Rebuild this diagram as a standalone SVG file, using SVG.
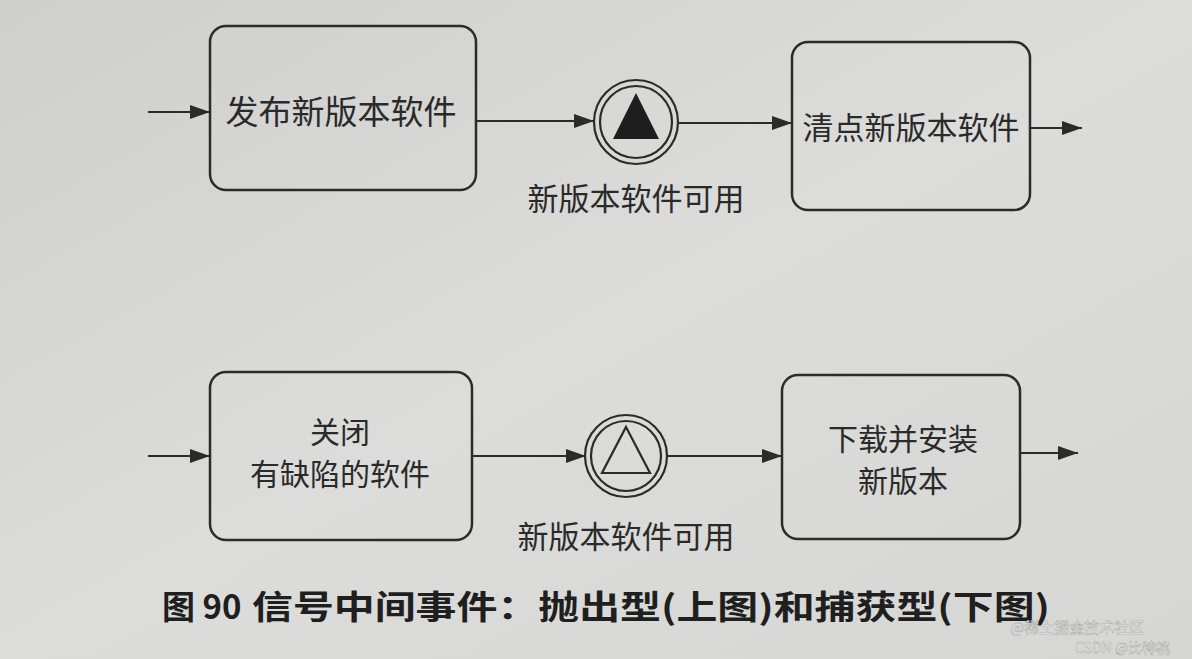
<svg xmlns="http://www.w3.org/2000/svg" width="1192" height="659" viewBox="0 0 1192 659">
<defs>
<linearGradient id="paper" x1="0" y1="0" x2="1" y2="1">
<stop offset="0" stop-color="#cfcfcd"/>
<stop offset="0.5" stop-color="#dcdcda"/>
<stop offset="1" stop-color="#d6d6d4"/>
</linearGradient>
<marker id="arr2" viewBox="0 0 20 14" refX="20" refY="7" markerWidth="20" markerHeight="14" markerUnits="userSpaceOnUse" orient="auto">
<path d="M0,0 L20,7 L0,14 z" fill="#2b2b2b"/>
</marker>
</defs>
<style>
.box{fill:none;stroke:#2b2b2b;stroke-width:2.5}
.ring{fill:none;stroke:#2b2b2b;stroke-width:2.2}
.edge{fill:none;stroke:#2b2b2b;stroke-width:2.2;marker-end:url(#arr2)}
.t{font-family:"Noto Sans CJK SC","Noto Sans",sans-serif;fill:#2a2a2a;text-anchor:middle}
.n33{font-size:33px}
.n31{font-size:31px}
.n30{font-size:30px}
.lbl{font-size:31px}
.cap{font-family:"Noto Sans CJK SC","Noto Sans",sans-serif;fill:#1f1f1f;font-size:33px;font-weight:bold}
.wm{font-family:"Noto Sans CJK SC","Liberation Sans",sans-serif;fill:#f2f2f2;stroke:#9a9a9a;stroke-width:0.4}
</style>
<rect width="1192" height="659" fill="url(#paper)"/>

<g id="connectors">
<line class="edge" x1="148" y1="112" x2="210" y2="112"/>
<line class="edge" x1="476" y1="121" x2="594" y2="121"/>
<line class="edge" x1="678" y1="123" x2="792" y2="123"/>
<line class="edge" x1="1030" y1="128" x2="1082" y2="128"/>
<line class="edge" x1="148" y1="456" x2="210" y2="456"/>
<line class="edge" x1="472" y1="456" x2="586" y2="456"/>
<line class="edge" x1="668" y1="456" x2="782" y2="456"/>
<line class="edge" x1="1020" y1="453" x2="1078" y2="453"/>
</g>

<g id="task-publish">
<rect class="box" x="210" y="26" width="266" height="164" rx="16"/>
<text class="t n33" x="341" y="124">发布新版本软件</text>
</g>

<g id="event-throw">
<circle class="ring" cx="636" cy="122" r="42"/>
<circle class="ring" cx="636" cy="122" r="36"/>
<path d="M636,93 L659,139 L613,139 z" fill="#1e1e1e"/>
<text class="t lbl" x="636" y="210">新版本软件可用</text>
</g>

<g id="task-inventory">
<rect class="box" x="792" y="42" width="238" height="168" rx="16"/>
<text class="t n31" x="911" y="139">清点新版本软件</text>
</g>

<g id="task-close">
<rect class="box" x="210" y="372" width="262" height="168" rx="16"/>
<text class="t n30" x="340" y="443">关闭</text>
<text class="t n30" x="340" y="485">有缺陷的软件</text>
</g>

<g id="event-catch">
<circle class="ring" cx="626" cy="456" r="41"/>
<circle class="ring" cx="626" cy="456" r="35"/>
<path d="M626,427 L650,473 L602,473 z" fill="none" stroke="#2b2b2b" stroke-width="2.2"/>
<text class="t lbl" x="626" y="548">新版本软件可用</text>
</g>

<g id="task-install">
<rect class="box" x="782" y="375" width="238" height="164" rx="16"/>
<text class="t n30" x="903" y="450">下载并安装</text>
<text class="t n30" x="903" y="492">新版本</text>
</g>

<text class="cap" x="162" y="619">图 90</text>
<text class="cap" x="252" y="619" textLength="798" lengthAdjust="spacingAndGlyphs">信号中间事件：抛出型(上图)和捕获型(下图)</text>

<text class="wm" x="1010" y="633" font-size="15">@稀土掘金技术社区</text>
<text class="wm" x="1075" y="653" font-size="14">CSDN @比特桃</text>
</svg>
